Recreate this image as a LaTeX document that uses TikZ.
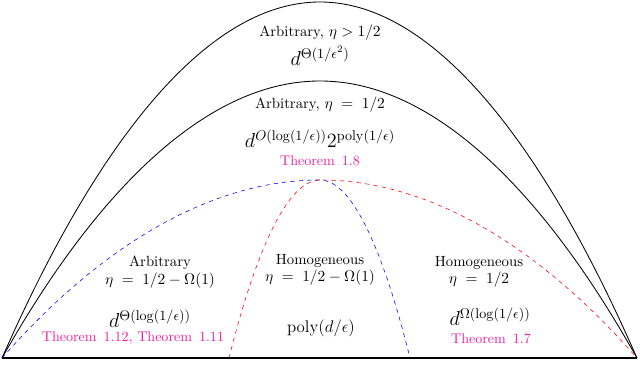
\documentclass[tikz,border=0pt]{standalone}
\usepackage{amsmath,amssymb}
\usetikzlibrary{calc}
\definecolor{thmpink}{RGB}{235,30,160}
\tikzset{
  regionlbl/.style={align=center, inner sep=0pt, font=\fontsize{10.5}{12.5}\selectfont},
  boundlbl/.style={font=\Large, inner sep=0pt},
  thmlbl/.style={text=thmpink, inner sep=0pt},
  bluedash/.style={blue, dashed},
  reddash/.style={red, dashed}
}

\begin{document}
\begin{tikzpicture}[x=0.025cm, y=0.025cm]
  \useasboundingbox (0,0) rectangle (640,383);

  % Key points of the regions
  \coordinate (lft) at (2,25);          % left corner
  \coordinate (rgt) at (637,25);        % right corner
  \coordinate (outtop) at (320,381);    % outer arc top
  \coordinate (intop) at (320,302);     % inner arc top
  \coordinate (dashtop) at (320,203);   % dashed arcs top
  \coordinate (blueend) at (410,25);    % blue arc foot
  \coordinate (redstart) at (229,25);   % red arc foot

  % Solid arcs
  \draw[semithick] (lft) parabola bend (outtop) (rgt);
  \draw[semithick] (lft) parabola bend (intop) (rgt);

  % Dashed arcs
  \draw[bluedash] (lft) parabola bend (dashtop) (blueend);
  \draw[reddash] (redstart) parabola bend (dashtop) (rgt);

  % Base line
  \draw[very thick] (lft) -- (rgt);

  % Top region
  \node[regionlbl] (toptxt) at (320,350) {Arbitrary, $\eta > 1/2$};
  \node[boundlbl] (topbnd) at (320,327) {$d^{\Theta(1/\epsilon^2)}$};

  % Middle region
  \node[regionlbl] (midtxt) at (320,278) {Arbitrary, $\eta \;=\; 1/2$};
  \node[boundlbl] (midbnd) at (320,244) {$d^{O(\log(1/\epsilon))}2^{\mathrm{poly}(1/\epsilon)}$};
  \node[thmlbl] (midthm) at (320,222) {Theorem\, 1.8};

  % Lower left region
  \node[regionlbl] (lfttxt) at (160,111) {Arbitrary\\ $\eta \;=\; 1/2 - \Omega(1)$};
  \node[boundlbl] (lftbnd) at (150,64) {$d^{\Theta(\log(1/\epsilon))}$};
  \node[thmlbl] (lftthm) at (133,45) {Theorem\, 1.12, Theorem\, 1.11};

  % Lower centre region
  \node[regionlbl] (cnttxt) at (320,113) {Homogeneous\\ $\eta \;=\; 1/2 - \Omega(1)$};
  \node[boundlbl, font=\fontsize{13}{15}\selectfont] (cntbnd) at (321,55) {$\mathrm{poly}(d/\epsilon)$};

  % Lower right region
  \node[regionlbl] (rgttxt) at (479,111) {Homogeneous\\ $\eta \;=\; 1/2$};
  \node[boundlbl] (rgtbnd) at (490,66) {$d^{\Omega(\log(1/\epsilon))}$};
  \node[thmlbl] (rgtthm) at (491,44) {Theorem\, 1.7};
\end{tikzpicture}
\end{document}
